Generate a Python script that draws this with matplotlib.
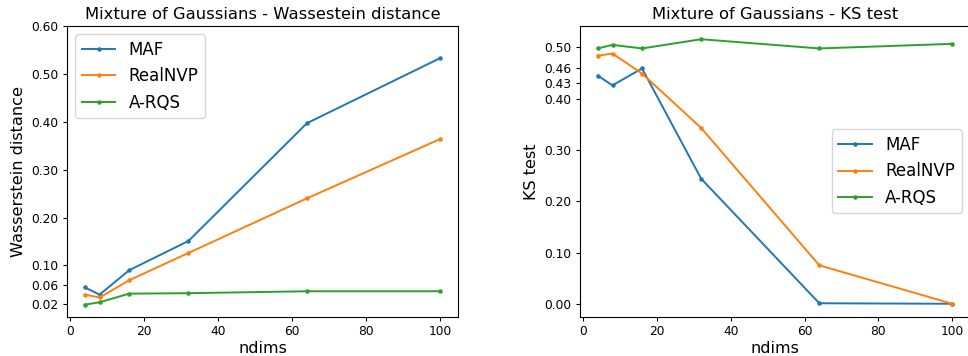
import numpy as np
import matplotlib.pyplot as plt

ndims = [4, 8, 16, 32, 64, 100]

# Wasserstein distance
w_maf = [0.054, 0.039, 0.090, 0.151, 0.397, 0.533]
w_realnvp = [0.039, 0.033, 0.069, 0.126, 0.240, 0.364]
w_arqs = [0.018, 0.023, 0.041, 0.042, 0.046, 0.046]
w_ticks = [0.02, 0.06, 0.10, 0.20, 0.30, 0.40, 0.50, 0.60]

# KS test
ks_maf = [0.445, 0.426, 0.459, 0.244, 0.001, 0.0]
ks_realnvp = [0.484, 0.488, 0.449, 0.343, 0.075, 0.0]
ks_arqs = [0.498, 0.505, 0.498, 0.516, 0.498, 0.507]
ks_ticks = [0.00, 0.10, 0.20, 0.30, 0.40, 0.43, 0.46, 0.50]

labels = ["MAF", "RealNVP", "A-RQS"]
cmap = plt.get_cmap('tab10', 10)

fig = plt.figure(figsize=(9.68, 3.56), dpi=100)
ax1 = fig.add_axes([67/968, 1 - 317/356, 391/968, 291/356])
ax2 = fig.add_axes([580/968, 1 - 317/356, 390/968, 291/356])

for i, series in enumerate([w_maf, w_realnvp, w_arqs]):
    ax1.plot(ndims, series, '.-', color=cmap(i), label=labels[i], markersize=4.5, linewidth=1.4)
ax1.set_yticks(w_ticks)
ax1.set_yticklabels([f"{t:.2f}" for t in w_ticks])
ax1.set_title("Mixture of Gaussians - Wassestein distance", fontsize=11.8, pad=5)
ax1.set_xlabel("ndims", fontsize=11.6, labelpad=2)
ax1.set_ylabel("Wasserstein distance", fontsize=11.6, labelpad=4)
ax1.legend(loc='upper left', fontsize=12)

for i, series in enumerate([ks_maf, ks_realnvp, ks_arqs]):
    ax2.plot(ndims, series, '.-', color=cmap(i), label=labels[i], markersize=4.5, linewidth=1.4)
ax2.set_yticks(ks_ticks)
ax2.set_yticklabels([f"{t:.2f}" for t in ks_ticks])
ax2.set_title("Mixture of Gaussians - KS test", fontsize=11.8, pad=5)
ax2.set_xlabel("ndims", fontsize=11.6, labelpad=2)
ax2.set_ylabel("KS test", fontsize=11.6, labelpad=4)
ax2.legend(loc='center right', fontsize=12)

for ax in (ax1, ax2):
    ax.set_xticks([0, 20, 40, 60, 80, 100])
    ax.tick_params(labelsize=8.8, length=3, pad=3)

plt.savefig("out.png", dpi=100)
